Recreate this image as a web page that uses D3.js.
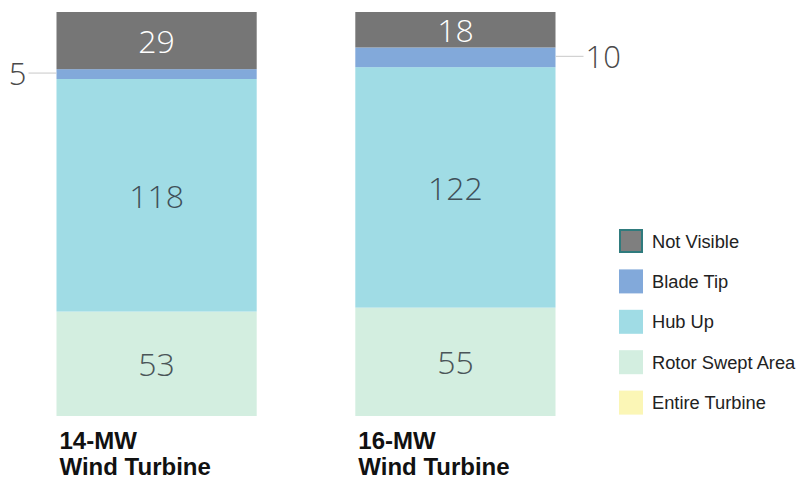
<!DOCTYPE html>
<html><head><meta charset="utf-8">
<script src="https://cdn.jsdelivr.net/npm/d3@7"></script>
<style>body{margin:0;background:#fff}svg{display:block}</style>
</head><body>
<svg id="c" width="797" height="483"></svg>
<script>
const categories = ["14-MW Wind Turbine", "16-MW Wind Turbine"];
const categoryLines = [["14-MW", "Wind Turbine"], ["16-MW", "Wind Turbine"]];
const seriesNames = ["Entire Turbine", "Rotor Swept Area", "Hub Up", "Blade Tip", "Not Visible"];
const entireTurbine = [0, 0];
const rotorSwept = [53, 55];
const hubUp = [118, 122];
const bladeTip = [5, 10];
const notVisible = [29, 18];
const colors = {"Entire Turbine":"#fbf6b6","Rotor Swept Area":"#d3eee0","Hub Up":"#a0dce5","Blade Tip":"#82a9da","Not Visible":"#767676"};
const labelColors = {"Rotor Swept Area":"#4a5558","Hub Up":"#3f4f58","Not Visible":"#ffffff"};
const legendOrder = ["Not Visible", "Blade Tip", "Hub Up", "Rotor Swept Area", "Entire Turbine"];

const rows = categories.map((c, i) => ({cat: c, "Entire Turbine": entireTurbine[i], "Rotor Swept Area": rotorSwept[i], "Hub Up": hubUp[i], "Blade Tip": bladeTip[i], "Not Visible": notVisible[i]}));
const stack = d3.stack().keys(seriesNames)(rows);

const svg = d3.select("#c");
const x = d3.scaleBand().domain(categories).range([56.5, 555.5]).paddingInner(0.33).paddingOuter(0);
const total = d3.max(rows, r => seriesNames.reduce((s, k) => s + r[k], 0));
const y = d3.scaleLinear().domain([0, total]).range([416, 12]);

const g = svg.append("g");
stack.forEach(layer => {
  g.selectAll(null).data(layer).enter().append("rect")
    .attr("x", d => x(d.data.cat))
    .attr("width", x.bandwidth())
    .attr("y", d => y(d[1]))
    .attr("height", d => y(d[0]) - y(d[1]))
    .attr("fill", colors[layer.key]);
});

// inside labels
stack.forEach(layer => {
  if (!labelColors[layer.key]) return;
  g.selectAll(null).data(layer).enter().append("text")
    .attr("x", d => x(d.data.cat) + x.bandwidth() / 2)
    .attr("y", d => (y(d[0]) + y(d[1])) / 2 + 1)
    .attr("dy", "0.36em")
    .attr("text-anchor", "middle")
    .attr("font-family", "'Open Sans', sans-serif")
    .attr("font-weight", 300)
    .attr("font-size", 32)
    .attr("fill", labelColors[layer.key])
    .text(d => d[1] - d[0]);
});

// blade tip outside labels with leader lines
const blade = stack.find(l => l.key === "Blade Tip");
blade.forEach((d, i) => {
  const cy = (y(d[0]) + y(d[1])) / 2 - 1;
  const left = i === 0;
  const x0 = left ? x(d.data.cat) : x(d.data.cat) + x.bandwidth();
  const x1 = left ? x0 - 28 : x0 + 28;
  g.append("line").attr("x1", x0).attr("x2", x1).attr("y1", cy).attr("y2", cy)
    .attr("stroke", "#c8c8c8").attr("stroke-width", 1);
  g.append("text").attr("x", left ? x1 - 2 : x1 + 2).attr("y", cy + 1).attr("dy", "0.36em")
    .attr("text-anchor", left ? "end" : "start")
    .attr("font-family", "'Open Sans', sans-serif").attr("font-weight", 300)
    .attr("font-size", 31).attr("fill", "#4a4a4a")
    .text(d[1] - d[0]);
});

// category labels
categories.forEach((c, i) => {
  const t = svg.append("text").attr("x", x(c) + 4).attr("y", 449)
    .attr("font-family", "'Liberation Sans', Arial, sans-serif")
    .attr("font-weight", "bold").attr("font-size", 24).attr("fill", "#111");
  categoryLines[i].forEach((ln, j) => {
    t.append("tspan").attr("x", x(c) + 3).attr("dy", j === 0 ? 0 : 26).text(ln);
  });
});

// legend
const lg = svg.append("g").attr("transform", "translate(619,229)");
legendOrder.forEach((k, i) => {
  const row = lg.append("g").attr("transform", `translate(0,${i * 40.4})`);
  row.append("rect").attr("x", k === "Not Visible" ? 1 : 0).attr("y", k === "Not Visible" ? 1 : 0)
    .attr("width", k === "Not Visible" ? 22 : 24).attr("height", k === "Not Visible" ? 22 : 24)
    .attr("fill", k === "Not Visible" ? "#7f7f7f" : colors[k])
    .attr("stroke", k === "Not Visible" ? "#2f7b7d" : "none")
    .attr("stroke-width", 2);
  row.append("text").attr("x", 33).attr("y", 12).attr("dy", "0.36em")
    .attr("font-family", "'Liberation Sans', Arial, sans-serif")
    .attr("font-size", 18.3).attr("fill", "#222").text(k);
});
</script>
</body></html>
